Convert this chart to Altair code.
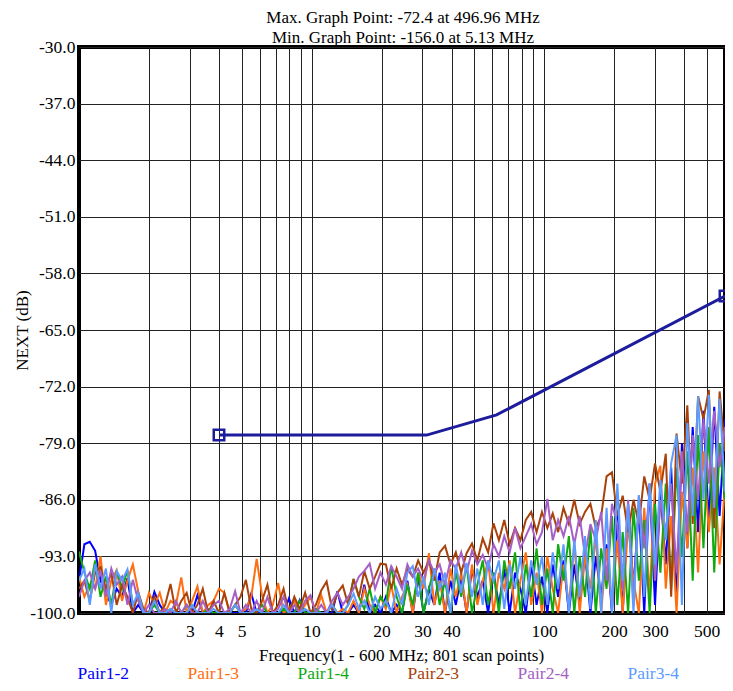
import altair as alt
import numpy as np
import pandas as pd

# ---- data -------------------------------------------------------------
PAIRS = ["Pair1-2", "Pair1-3", "Pair1-4", "Pair2-3", "Pair2-4", "Pair3-4"]
COLORS = ["#0000ff", "#ff6e10", "#10aa10", "#a8420a", "#a55fc6", "#5c9bff"]

# instrument scan grid (log-spaced, 1 - 600 MHz), reduced resolution
FREQ_START, FREQ_STOP, N_SCAN = 1.0, 600.0, 121
freqs = np.geomspace(FREQ_START, FREQ_STOP, N_SCAN)

pair12 = [-96, -91.5, -91.2, -92.3, -96, -97.5, -99, -97, -98, -95.7,
          -100, -99, -100, -100, -97.4, -99, -100, -100, -100, -100,
          -100, -100, -97.8, -100, -100, -100, -100, -100, -100, -100,
          -100, -100, -97.6, -100, -100, -100, -100, -100, -100, -98.2,
          -100, -98.4, -100, -100, -100, -100, -100, -100, -97.3, -100,
          -100, -99, -100, -96.5, -100, -99, -100, -98, -100, -99,
          -100, -96, -100, -95.5, -100, -97, -99, -95, -100, -96,
          -99, -95.5, -100, -94.5, -98, -96, -100, -95, -99, -94.5,
          -100, -95, -97, -100, -94, -99, -95.5, -100, -94, -98,
          -93.5, -100, -94, -99, -92.5, -100, -93, -98, -91.5, -100,
          -88, -100, -86.5, -97, -87, -100, -84, -99, -85, -94,
          -82, -99, -79, -92, -77, -90, -75, -89, -74.5, -88,
          -76]

pair13 = [-95.5, -98, -96.5, -97, -93, -99, -96, -94.7, -98.5, -96,
          -94, -97.3, -100, -97.5, -99, -97.5, -100, -98.5, -99, -95.6,
          -100, -98.5, -96.7, -100, -99, -98.5, -97, -97.5, -100, -99,
          -100, -99.5, -98, -93.3, -97.8, -100, -99, -96.3, -100, -99.5,
          -98.5, -100, -99, -98, -100, -97.8, -100, -99, -100, -99.5,
          -100, -98.5, -100, -97, -99, -100, -98, -99.5, -96.5, -100,
          -98, -96.5, -100, -95, -97, -92.6, -99, -96, -100, -94.5,
          -98, -95, -100, -94, -99, -96, -93.5, -100, -95, -97,
          -93.5, -100, -96, -92.5, -99, -95, -100, -93, -97, -100,
          -94, -99, -91.5, -100, -93, -97, -90.5, -100, -92, -99,
          -91, -100, -89, -96, -100, -87, -98, -84, -81.8, -97,
          -88, -100, -85, -92, -82, -95, -80, -90, -82, -94,
          -84]

pair14 = [-92.4, -95, -97, -93.5, -98, -95.5, -99, -94.8, -97, -94.7,
          -99, -98, -100, -100, -99, -100, -100, -99.5, -100, -100,
          -99, -100, -100, -100, -99.5, -100, -100, -100, -100, -99,
          -100, -100, -100, -100, -99, -100, -100, -100, -99.5, -100,
          -100, -98.5, -100, -100, -99.5, -100, -100, -99, -100, -100,
          -99, -95.8, -98, -99.5, -97, -100, -98, -99, -94.2, -98,
          -100, -96.5, -99, -95, -100, -97, -94.5, -99, -96, -100,
          -95, -98, -94, -100, -96.5, -93.5, -99, -95, -100, -93.5,
          -97, -92.5, -100, -94, -98, -92, -99, -94.5, -100, -91.5,
          -96, -90.5, -100, -93, -98, -89.5, -100, -92, -97, -88,
          -99, -90, -100, -87, -96, -88.5, -100, -86.5, -95, -84,
          -97, -82, -93, -80, -96, -78, -92, -77, -95, -79,
          -86]

pair23 = [-97, -96, -98.5, -95, -94.3, -97, -95, -99, -96.5, -98,
          -100, -97.5, -99.5, -100, -98, -100, -99, -96.4, -100, -98.5,
          -97.5, -100, -99, -97, -100, -98.5, -100, -97.5, -100, -99,
          -98, -95.9, -99.5, -100, -98.5, -96.5, -100, -99, -97, -100,
          -98, -99.5, -97.5, -100, -99, -97.2, -96.1, -99.5, -97.5, -96.6,
          -99, -95.8, -98, -94.8, -97, -95.5, -93.9, -94, -97, -94.5,
          -96.5, -94.6, -95.5, -93.5, -95, -93.5, -96, -92.5, -91.7, -94,
          -92.5, -95, -92.6, -91.4, -93.5, -90.8, -92.5, -88.9, -91, -88.5,
          -91.5, -89.5, -91, -88.5, -87.5, -90, -87.5, -89.5, -87.7, -90,
          -87, -89, -86, -89, -87.5, -86.5, -89.5, -88, -83.1, -82.6,
          -88, -85.5, -90, -86, -89, -83.1, -86, -81.5, -85, -80.3,
          -98, -77.8, -84, -74.3, -89, -73.2, -76, -72.4, -89.5, -72.6,
          -80]

pair24 = [-98, -96, -95, -97, -94.8, -98, -94.5, -96.5, -95.5, -99,
          -95.9, -98.5, -100, -99, -100, -100, -99.5, -100, -98.5, -100,
          -99, -100, -100, -98.5, -100, -99, -98.5, -100, -99.5, -97.3,
          -100, -99, -100, -98.5, -100, -98, -100, -99.5, -98, -100,
          -99, -100, -98.5, -97.8, -100, -99, -100, -98.5, -97.5, -99,
          -98, -97, -95.5, -94.8, -93.9, -97, -95, -96.5, -94.2, -95.5,
          -97, -94, -95.5, -94.5, -96, -93.5, -95, -94, -96.5, -93.5,
          -94.5, -92.5, -95, -92.3, -94, -92.8, -94.5, -91.5, -93, -90.5,
          -92.5, -89.5, -92, -90.5, -89, -91.5, -90, -85.9, -91, -88.5,
          -90.5, -88, -91.5, -88, -93, -89, -91, -87.5, -96, -86.5,
          -89, -97, -86, -99, -85.5, -92, -85, -96, -86, -90,
          -84, -95, -80, -90, -78, -86, -76, -84, -75, -82,
          -77]

pair34 = [-96, -94.5, -99, -94, -97, -94.5, -100, -94.8, -96, -94.6,
          -99, -97.5, -100, -100, -98.5, -100, -100, -99.5, -100, -100,
          -100, -99, -100, -100, -100, -99.5, -100, -100, -100, -99,
          -100, -100, -100, -99.5, -100, -100, -100, -100, -99, -100,
          -100, -100, -99.5, -100, -100, -100, -100, -99, -100, -100,
          -99, -97.6, -99.5, -98.5, -100, -98, -99.5, -98.5, -100, -97,
          -99, -95, -94.2, -98, -95.5, -99, -94.5, -97, -95, -100,
          -94, -97.5, -93.8, -98, -94.5, -99, -93.5, -96, -93.5, -99.5,
          -94, -97, -93, -99, -93.5, -96.5, -93, -99, -92.5, -97,
          -91.5, -100, -91, -98, -90.5, -99.5, -88.5, -100, -87, -100,
          -84, -96, -86.5, -100, -85.4, -98, -84, -94, -83.5, -91,
          -81.5, -78, -99, -76.5, -88, -73.2, -86, -73, -87, -73.5,
          -85]

# limit line (MHz, dB)
limit_freq = [4, 31.25, 62.5, 600]
limit_db = [-78.0, -78.0, -75.5, -60.8]

y_ticks = [-30, -37, -44, -51, -58, -65, -72, -79, -86, -93, -100]
x_grid = [2, 3, 4, 5, 6, 7, 8, 9, 10, 20, 30, 40, 50, 60, 70, 80, 90,
          100, 200, 300, 400, 500, 600]
x_labels = [2, 3, 4, 5, 10, 20, 30, 40, 100, 200, 300, 500]

title_lines = ["Max. Graph Point: -72.4 at 496.96 MHz",
               "Min. Graph Point: -156.0 at 5.13 MHz"]

# ---- build tables ------------------------------------------------------
series = [pair12, pair13, pair14, pair23, pair24, pair34]
rows = []
for name, vals in zip(PAIRS, series):
    for f, v in zip(freqs, vals):
        rows.append({"pair": name, "freq": float(f), "value": v})
df = pd.DataFrame(rows)
limit_df = pd.DataFrame({"freq": limit_freq, "value": limit_db})
marker_df = limit_df.iloc[[0, -1]]

FONT = "Liberation Serif, Times New Roman, Times, DejaVu Serif, serif"

x_enc = alt.X("freq:Q",
              scale=alt.Scale(type="log", domain=[1, 600], nice=False),
              axis=alt.Axis(values=x_grid, title="Frequency(1 - 600 MHz; 801 scan points)",
                            labelExpr="indexof(" + str(x_labels) + ", datum.value) >= 0 ? toString(datum.value) : ''",
                            labelOverlap=False, labelFlush=False, labelPadding=9,
                            titleX=322, titleY=42, titleBaseline="middle", titleAlign="center"))
y_enc = alt.Y("value:Q",
              scale=alt.Scale(domain=[-100, -30], nice=False, zero=False),
              axis=alt.Axis(values=y_ticks, labelExpr="datum.value + '.0'", title="NEXT (dB)",
                            labelPadding=4, labelOverlap=False, labelFlush=False,
                            titleX=-57, titleY=283, titleAlign="center",
                            titleBaseline="middle", titleAngle=270))

noise = alt.Chart(df).mark_line(clip=True, strokeWidth=2).encode(
    x=x_enc, y=y_enc,
    color=alt.Color("pair:N", scale=alt.Scale(domain=PAIRS, range=COLORS),
                    legend=alt.Legend(title=None, orient="none", legendX=-19, legendY=618,
                                      direction="horizontal", columns=6,
                                      symbolSize=0, symbolStrokeWidth=0, symbolOpacity=0,
                                      labelOffset=0, columnPadding=40,
                                      labelFont=FONT, labelFontSize=17.5, labelLimit=0,
                                      labelColor={"expr": "scale('color', datum.value)"})),
)

limit = alt.Chart(limit_df).mark_line(color="#1c1c9c", strokeWidth=3).encode(
    x="freq:Q", y="value:Q")
markers = alt.Chart(marker_df).mark_point(shape="square", filled=False, color="#1c1c9c",
                                          size=110, strokeWidth=2.5, opacity=1).encode(
    x="freq:Q", y="value:Q")

chart = alt.layer(noise, limit, markers).properties(
    width=646, height=566,
    title=alt.TitleParams(text=title_lines, font=FONT, fontSize=17, fontWeight="normal",
                          anchor="middle", offset=3, lineHeight=20, color="black", dx=1, dy=12),
    autosize=alt.AutoSizeParams(type="none"),
    padding={"left": 71, "top": 39, "right": 0, "bottom": 70},
).configure_view(
    stroke="black", strokeWidth=4
).configure_axis(
    grid=True, gridColor="#222222", gridWidth=1, gridOpacity=1,
    domain=False, ticks=False,
    labelFont=FONT, labelFontSize=17.5, labelColor="black",
    titleFont=FONT, titleFontSize=17, titleFontWeight="normal", titleColor="black",
)

chart.save("out.html", embed_options={"renderer": "svg", "actions": False})
